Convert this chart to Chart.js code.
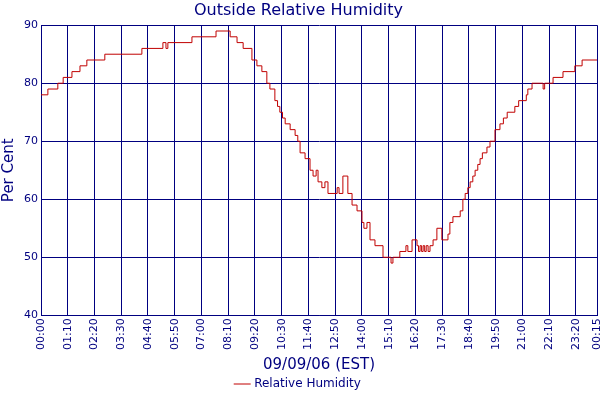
<!DOCTYPE html>
<html><head><meta charset="utf-8">
<script src="https://cdn.jsdelivr.net/npm/chart.js@4"></script>
<style>html,body{margin:0;padding:0;background:#fff}#w{width:600px;height:400px}</style>
</head><body><div id="w"><canvas id="c"></canvas></div>
<script>
const times = [0,18,44,58,81,102,120,167,264,319,327,332,395,458,495,513,529,552,565,578,591,599,612,619,625,632,639,652,665,672,678,691,704,712,720,725,735,743,751,775,780,790,798,803,814,827,840,845,853,861,874,895,916,921,939,955,960,971,984,988,992,996,1000,1004,1008,1013,1018,1026,1036,1049,1065,1070,1078,1097,1104,1110,1117,1123,1130,1136,1143,1149,1155,1167,1175,1188,1201,1210,1220,1240,1250,1270,1274,1285,1311,1314,1318,1340,1366,1397,1416,1455];
const humidity = [78,79,80,81,82,83,84,85,86,87,86,87,88,89,88,87,86,84,83,82,80,79,77,76,75,74,73,72,71,70,68,67,65,64,65,63,62,63,61,62,61,64,64,61,59,58,56,55,56,53,52,50,49,50,51,52,51,53,52,51,52,51,52,51,52,51,52,53,55,53,54,56,57,58,60,61,62,63,64,65,66,67,68,69,70,72,73,74,75,76,77,78,79,80,80,79,80,81,82,83,84,84];
const tickMinutes = [0,70,140,210,280,350,420,490,560,630,700,770,840,910,980,1050,1120,1190,1260,1330,1400,1455];
const NAVY = '#000080';
const fmt = m => { m = m % 1440; const h = Math.floor(m/60), mm = m%60; return String(h).padStart(2,'0')+':'+String(mm).padStart(2,'0'); };
const F = 'Verdana, "DejaVu Sans", sans-serif';
new Chart(document.getElementById('c'), {
  type: 'line',
  data: { datasets: [{ label: 'Relative Humidity', data: times.map((t,i)=>({x:t,y:humidity[i]})),
    borderColor: '#c00000', backgroundColor:'#c00000', borderWidth: 1, pointRadius: 0, stepped: true, fill:false }] },
  options: {
    responsive: true, maintainAspectRatio: false, animation: false,
    layout: { padding: { left: 0, right: 3, top: 0, bottom: 0 } },
    plugins: {
      title: { display: true, text: 'Outside Relative Humidity', color: NAVY, font: { family: F, size: 16, weight: 'normal' }, padding: { top: 1, bottom: 5 } },
      legend: { position: 'bottom', labels: { color: NAVY, font: { family: F, size: 12 }, usePointStyle: true, pointStyle: 'line', boxWidth: 16, padding: 4 } },
      tooltip: { enabled: false }
    },
    scales: {
      x: { type: 'linear', min: 0, max: 1455,
        afterBuildTicks: a => { a.ticks = tickMinutes.map(v => ({ value: v })); },
        afterFit: a => { a.paddingRight = 0; a.paddingLeft = 0; },
        ticks: { color: NAVY, font: { family: F, size: 11 }, minRotation: 90, maxRotation: 90, autoSkip: false, padding: 3, callback: v => fmt(v) },
        grid: { color: NAVY, lineWidth: 1, drawTicks: false },
        border: { color: NAVY },
        title: { display: true, text: '09/09/06 (EST)', color: NAVY, font: { family: F, size: 15 }, padding: { top: 3, bottom: 0 } } },
      y: { min: 40, max: 90,
        afterFit: s => { s.width = 41; },
        ticks: { stepSize: 10, color: NAVY, font: { family: F, size: 11 }, padding: 3 },
        grid: { color: NAVY, lineWidth: 1, drawTicks: false },
        border: { color: NAVY },
        title: { display: true, text: 'Per Cent', color: NAVY, font: { family: F, size: 15 }, padding: 0 } }
    }
  }
});
</script></body></html>
